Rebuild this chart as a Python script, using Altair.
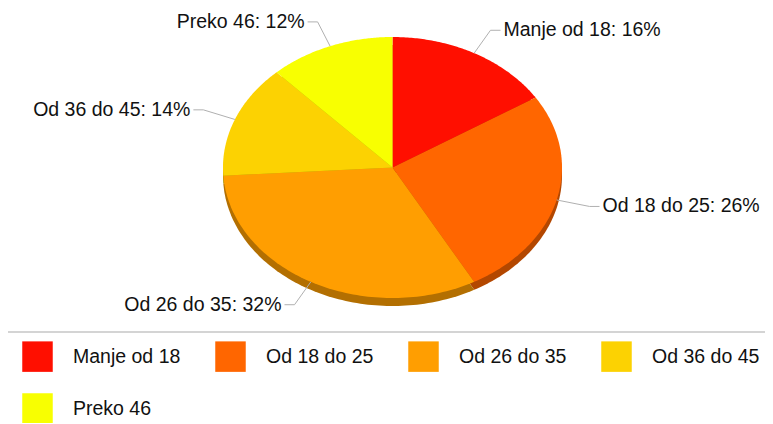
import altair as alt
import pandas as pd

categories = ["Manje od 18", "Od 18 do 25", "Od 26 do 35", "Od 36 do 45", "Preko 46"]
values = [16, 26, 32, 14, 12]
colors = ["#FF0F00", "#FF6600", "#FF9E01", "#FCD202", "#F8FF01"]
side_colors = ["#B30A00", "#B34700", "#B36F01", "#B09301", "#AEB301"]

W, H = 757, 415
CX, CY, RX, RY, DEPTH = 384.5, 159.5, 169.5, 130.5, 8
N = 90
LR = 1.2
FONT = "Liberation Sans"

df = pd.DataFrame({
    "cat": categories,
    "val": values,
    "dark": side_colors,
    "idx": list(range(len(categories))),
})

xs = alt.Scale(domain=[0, W], nice=False, zero=False)
ys = alt.Scale(domain=[0, H], nice=False, zero=False, reverse=True)

base = (
    alt.Chart(df)
    .transform_joinaggregate(total="sum(val)")
    .transform_window(cum="sum(val)", sort=[alt.SortField("idx")], frame=[None, 0])
    .transform_calculate(a0="2*PI*(datum.cum - datum.val)/datum.total")
    .transform_calculate(a1="2*PI*datum.cum/datum.total")
    .transform_calculate(mid="(datum.a0 + datum.a1)/2")
)


def pie(dy):
    return (
        base.transform_calculate(k=f"sequence(-1, {N + 1})")
        .transform_flatten(["k"])
        .transform_calculate(ang=f"datum.a0 + (datum.a1 - datum.a0) * max(datum.k, 0) / {N}")
        .transform_calculate(px=f"datum.k < 0 ? {CX} : {CX} + {RX} * sin(datum.ang)")
        .transform_calculate(py=f"(datum.k < 0 ? {CY} : {CY} - {RY} * cos(datum.ang)) + {dy}")
    )


shadow = pie(DEPTH).mark_line(filled=True, interpolate="linear").encode(
    x=alt.X("px:Q", scale=xs, axis=None),
    y=alt.Y("py:Q", scale=ys, axis=None),
    order="k:Q",
    detail="cat:N",
    color=alt.Color("dark:N", scale=None, legend=None),
)

top = pie(0).mark_line(filled=True, interpolate="linear").encode(
    x=alt.X("px:Q", scale=xs, axis=None),
    y=alt.Y("py:Q", scale=ys, axis=None),
    order="k:Q",
    detail="cat:N",
    color=alt.Color(
        "cat:N",
        scale=alt.Scale(domain=categories, range=colors),
        legend=alt.Legend(
            title=None,
            orient="none",
            legendX=14,
            legendY=333,
            direction="horizontal",
            columns=4,
            symbolType="square",
            symbolSize=930,
            symbolStrokeWidth=0,
            symbolOpacity=1,
            labelFont=FONT,
            labelFontSize=19.5,
            labelColor="#111111",
            labelOffset=20,
            labelLimit=300,
            columnPadding=34,
            rowPadding=21,
            padding=0,
        ),
    ),
)

sep = alt.Chart(pd.DataFrame({"a": [0]})).mark_rule(color="#d4d4d4", strokeWidth=2).encode(
    x=alt.value(0), x2=alt.value(W), y=alt.value(324)
)

lab = (
    base.transform_calculate(s="sin(datum.mid)")
    .transform_calculate(c="cos(datum.mid)")
    .transform_calculate(ex=f"{CX} + {RX} * datum.s")
    .transform_calculate(ey=f"{CY} - {RY} * datum.c")
    .transform_calculate(lx=f"{CX} + {LR} * {RX} * datum.s")
    .transform_calculate(ly=f"{CY} - {LR} * {RY} * datum.c")
    .transform_calculate(hx="datum.lx + (datum.s > 0 ? 10 : -10)")
    .transform_calculate(tx="datum.lx + (datum.s > 0 ? 13 : -13)")
    .transform_calculate(label="datum.cat + ': ' + round(100 * datum.val / datum.total) + '%'")
)

lead1 = lab.mark_rule(color="#b0b0b0", strokeWidth=1).encode(
    x=alt.X("ex:Q", scale=xs, axis=None),
    y=alt.Y("ey:Q", scale=ys, axis=None),
    x2="lx:Q",
    y2="ly:Q",
)
lead2 = lab.mark_rule(color="#b0b0b0", strokeWidth=1).encode(
    x=alt.X("lx:Q", scale=xs, axis=None),
    y=alt.Y("ly:Q", scale=ys, axis=None),
    x2="hx:Q",
)

text_r = lab.transform_filter("datum.s > 0").mark_text(
    align="left", baseline="middle", font=FONT, fontSize=19.5, color="#111111"
).encode(
    x=alt.X("tx:Q", scale=xs, axis=None),
    y=alt.Y("ly:Q", scale=ys, axis=None),
    text="label:N",
)
text_l = lab.transform_filter("datum.s <= 0").mark_text(
    align="right", baseline="middle", font=FONT, fontSize=19.5, color="#111111"
).encode(
    x=alt.X("tx:Q", scale=xs, axis=None),
    y=alt.Y("ly:Q", scale=ys, axis=None),
    text="label:N",
)

chart = (
    alt.layer(shadow, top, sep, lead1, lead2, text_r, text_l)
    .resolve_scale(color="independent")
    .properties(width=W, height=H, padding=0, autosize="none")
    .configure_view(stroke=None)
)

chart.save("out.html", embed_options={"renderer": "svg", "actions": False})
